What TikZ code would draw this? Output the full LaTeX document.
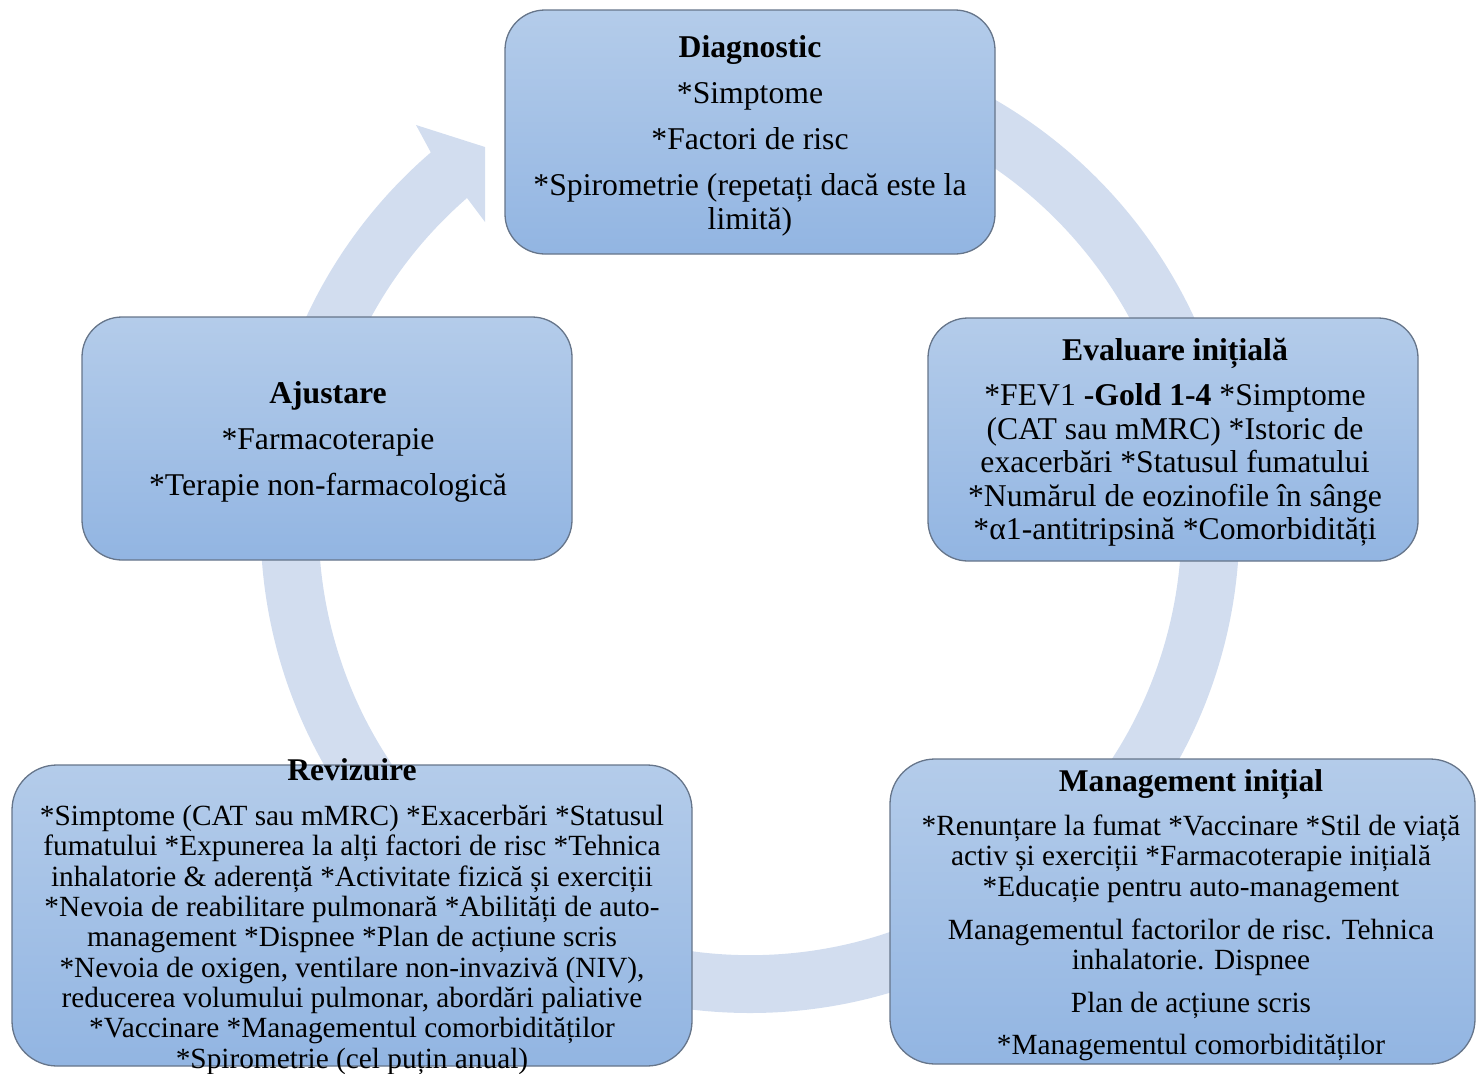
\documentclass[tikz,border=0pt]{standalone}
\usepackage{fontspec}
\setmainfont{Liberation Serif}
\usetikzlibrary{calc}
\definecolor{ringblue}{HTML}{D2DDEF}
\definecolor{boxtop}{HTML}{B4CCEA}
\definecolor{boxbottom}{HTML}{92B5E2}
\definecolor{boxline}{HTML}{66758A}
\tikzset{
  stage/.style={draw=boxline, line width=1.3pt, rounded corners=40pt,
    top color=boxtop, bottom color=boxbottom, inner sep=0pt},
  stagetext/.style={align=center, inner sep=0pt, text=black},
  bigtext/.style={stagetext, font=\fontsize{31.7}{33.5}\selectfont},
  smalltext/.style={stagetext, font=\fontsize{29.3}{30.3}\selectfont},
}
\newcommand\stagetitle[1]{{\fontsize{31.6}{33}\selectfont\textbf{#1}}}
\begin{document}
\begin{tikzpicture}[x=1pt,y=-1pt]
\useasboundingbox (0,0) rectangle (1476,1074);

% circular arrow running clockwise behind the five stages
\coordinate (hub) at (750,523.5);
\fill[ringblue] ($(hub)+(-90:489.5)$)
  arc[start angle=-90, end angle=229.3, radius=489.5]
  -- (416,125) -- (485,147) -- (485,222) -- (467,198)
  arc[start angle=229, end angle=-90, radius=431.5] -- cycle;

% stage boxes
\node[stage, minimum width=490pt, minimum height=244pt] (diag) at (750,132) {};
\node[stage, minimum width=490pt, minimum height=243pt] (eval) at (1173,439.5) {};
\node[stage, minimum width=585pt, minimum height=305pt, rounded corners=45pt] (mgmt) at (1182.5,911.5) {};
\node[stage, minimum width=680pt, minimum height=301pt, rounded corners=45pt] (rev) at (352,915.5) {};
\node[stage, minimum width=490pt, minimum height=243pt] (adj) at (327,438.5) {};

% stage texts
\node[bigtext] (diagtext) at (750,136) {\textbf{Diagnostic}\\[12.5pt]
  *Simptome\\[12.5pt]
  *Factori de risc\\[12.5pt]
  *Spirometrie (repetați dacă este la\\
  limită)};

\node[bigtext] (evaltext) at (1175,442.5) {\textbf{Evaluare inițială}\\[11.5pt]
  *FEV1 \textbf{-Gold 1-4} *Simptome\\
  (CAT sau mMRC) *Istoric de\\
  exacerbări *Statusul fumatului\\
  *Numărul de eozinofile în sânge\\
  *α1-antitripsină *Comorbidități};

\node[smalltext] (mgmttext) at (1191,915) {\stagetitle{Management inițial}\\[14pt]
  *Renunțare la fumat *Vaccinare *Stil de viață\\
  activ și exerciții *Farmacoterapie inițială\\
  *Educație pentru auto-management\\[13pt]
  Managementul factorilor de risc. Tehnica\\
  inhalatorie. Dispnee\\[12pt]
  Plan de acțiune scris\\[12pt]
  *Managementul comorbidităților};

\node[smalltext] (revtext) at (352,916.5) {\stagetitle{Revizuire}\\[14.7pt]
  *Simptome (CAT sau mMRC) *Exacerbări *Statusul\\
  fumatului *Expunerea la alți factori de risc *Tehnica\\
  inhalatorie \& aderență *Activitate fizică și exerciții\\
  *Nevoia de reabilitare pulmonară *Abilități de auto-\\
  management *Dispnee *Plan de acțiune scris\\
  *Nevoia de oxigen, ventilare non-invazivă (NIV),\\
  reducerea volumului pulmonar, abordări paliative\\
  *Vaccinare *Managementul comorbidităților\\
  *Spirometrie (cel puțin anual)};

\node[bigtext] (adjtext) at (328,441.5) {\textbf{Ajustare}\\[12.5pt]
  *Farmacoterapie\\[12.5pt]
  *Terapie non-farmacologică};
\end{tikzpicture}
\end{document}
